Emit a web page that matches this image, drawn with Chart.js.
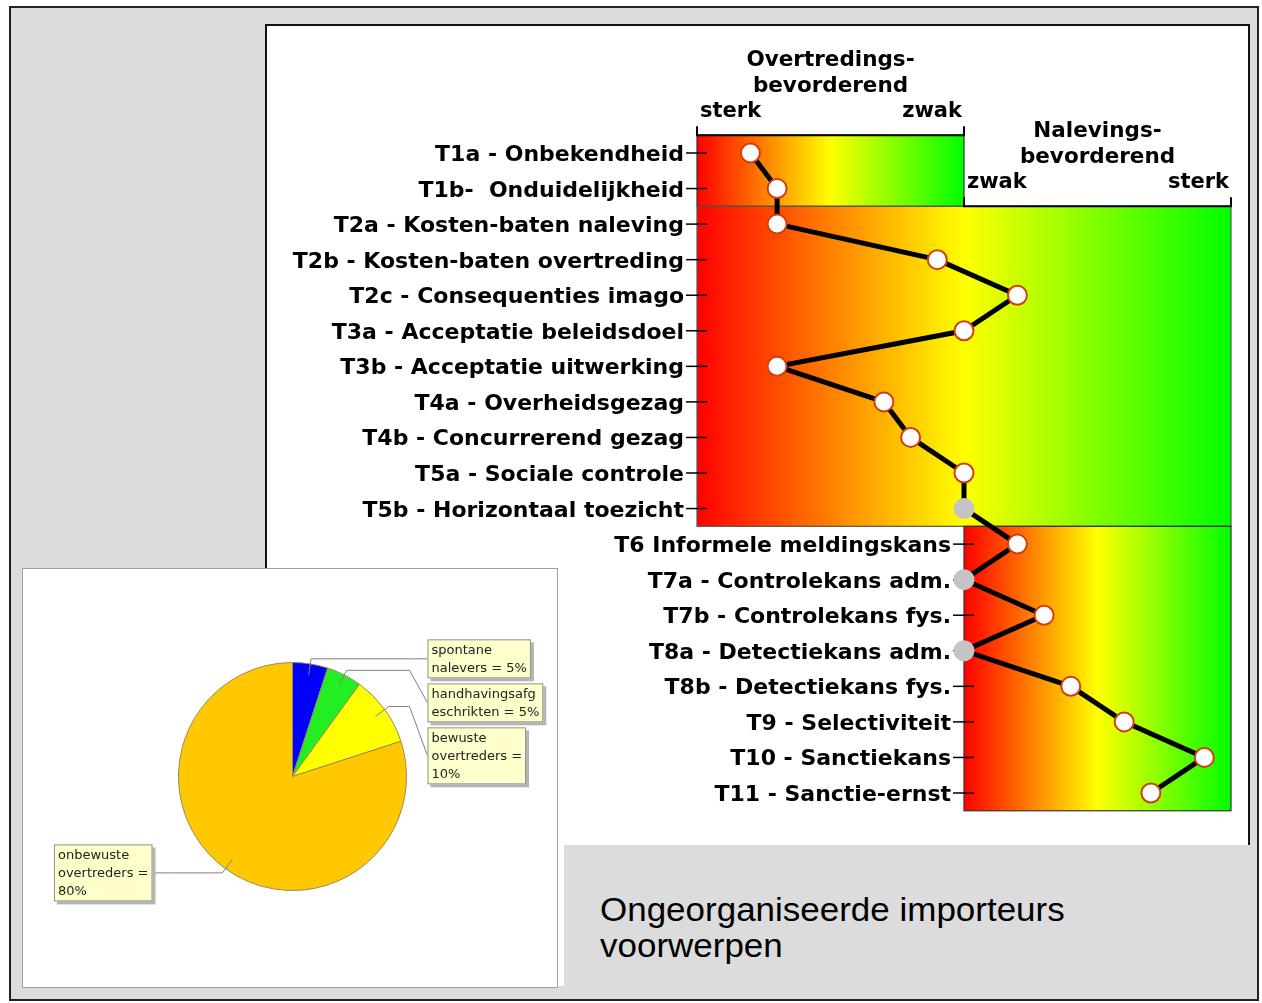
<!DOCTYPE html>
<html lang="nl">
<head>
<meta charset="utf-8">
<title>Ongeorganiseerde importeurs voorwerpen</title>
<script src="https://cdn.jsdelivr.net/npm/chart.js@4.4.1/dist/chart.umd.min.js"></script>
<style>
  html, body { margin: 0; padding: 0; background: #fff; }
  body { position: relative; width: 1262px; height: 1003px; overflow: hidden; }
  #frame { position: absolute; left: 9px; top: 6px; width: 1250px; height: 995px; box-sizing: border-box; border: 2px solid #222; background: #dcdcdc; }
  #panel { position: absolute; left: 265px; top: 24px; width: 985px; height: 962px; box-sizing: border-box; border: 2px solid #111; border-bottom: 0; background: #fff; }
  #mainChart { position: absolute; left: 265px; top: 24px; }
  #pieBox { position: absolute; left: 22px; top: 568px; width: 536px; height: 420px; box-sizing: border-box; border: 1px solid #a0a0a0; background: #fff; }
  #pieChart { position: absolute; left: 22px; top: 568px; }
  #caption { position: absolute; left: 564px; top: 845px; width: 692px; height: 152px; background: #dcdcdc; }
  #caption p { margin: 0; position: absolute; left: 36px; top: 47px; white-space: nowrap; font: 33px/36px "Liberation Sans", Arial, sans-serif; color: #000; transform: scaleX(1.06); transform-origin: 0 0; }
</style>
</head>
<body>
<div id="frame"></div>
<div id="panel"></div>
<canvas id="mainChart" width="983" height="821"></canvas>
<div id="pieBox"></div>
<canvas id="pieChart" width="536" height="420"></canvas>
<div id="caption"><p>Ongeorganiseerde importeurs<br>voorwerpen</p></div>
<script>
// rows of the profile, top to bottom
const categories = [
  'T1a - Onbekendheid', 'T1b-  Onduidelijkheid', 'T2a - Kosten-baten naleving',
  'T2b - Kosten-baten overtreding', 'T2c - Consequenties imago', 'T3a - Acceptatie beleidsdoel',
  'T3b - Acceptatie uitwerking', 'T4a - Overheidsgezag', 'T4b - Concurrerend gezag',
  'T5a - Sociale controle', 'T5b - Horizontaal toezicht', 'T6 Informele meldingskans',
  'T7a - Controlekans adm.', 'T7b - Controlekans fys.', 'T8a - Detectiekans adm.',
  'T8b - Detectiekans fys.', 'T9 - Selectiviteit', 'T10 - Sanctiekans', 'T11 - Sanctie-ernst'
];
// -5 = sterk overtredingsbevorderend, 0 = neutraal, 5 = sterk nalevingsbevorderend
const scores = [-4, -3.5, -3.5, -0.5, 1, 0, -3.5, -1.5, -1, 0, 0, 1, 0, 1.5, 0, 2, 3, 4.5, 3.5];
// grey dots: no score given
const scored = [true, true, true, true, true, true, true, true, true, true, false, true, false, true, false, true, true, true, true];

// coloured bands: which rows, which part of the scale
const bandRows = [[0, 1], [2, 10], [11, 18]];
const bandRange = [[-5, 0], [-5, 5], [0, 5]];
const sideTitles = [['Overtredings-', 'bevorderend'], ['Nalevings-', 'bevorderend']];
const sideEnds = [['sterk', 'zwak'], ['zwak', 'sterk']];
const sideRange = [[-5, 0], [0, 5]];

// pie
const pieLabels = ['spontane nalevers', 'handhavingsafgeschrikten', 'bewuste overtreders', 'onbewuste overtreders'];
const pieShares = [5, 5, 10, 80];
const pieColors = ['#0000ff', '#22ee22', '#ffff00', '#ffc800'];

const bandPlugin = {
  id: 'bands',
  beforeDatasetsDraw(chart) {
    const {ctx, scales: {x, y}} = chart;
    const half = Math.abs(y.getPixelForValue(1) - y.getPixelForValue(0)) / 2;
    const tops = [];
    ctx.save();
    bandRows.forEach(([r0, r1], b) => {
      const x0 = x.getPixelForValue(bandRange[b][0]);
      const x1 = x.getPixelForValue(bandRange[b][1]);
      const y0 = y.getPixelForValue(r0) - half;
      const y1 = y.getPixelForValue(r1) + half;
      tops.push(y0);
      const g = ctx.createLinearGradient(x0, 0, x1, 0);
      g.addColorStop(0, '#ff0000');
      g.addColorStop(0.5, '#ffff00');
      g.addColorStop(1, '#00ff00');
      ctx.fillStyle = g;
      ctx.fillRect(x0, y0, x1 - x0, y1 - y0);
      ctx.strokeStyle = b === 1 ? '#555' : '#333';
      ctx.lineWidth = 1.2;
      ctx.strokeRect(x0, y0, x1 - x0, y1 - y0);

      ctx.font = 'bold 22px "DejaVu Sans"';
      ctx.textAlign = 'right';
      ctx.textBaseline = 'alphabetic';
      ctx.fillStyle = '#000';
      ctx.strokeStyle = '#000';
      ctx.lineWidth = 1.5;
      for (let r = r0; r <= r1; r++) {
        const py = y.getPixelForValue(r);
        ctx.fillText(categories[r], x0 - 13, py + 8);
        ctx.beginPath();
        ctx.moveTo(x0 - 11, py);
        ctx.lineTo(x0 + 10, py);
        ctx.stroke();
      }
    });

    ctx.fillStyle = '#000';
    ctx.strokeStyle = '#000';
    sideTitles.forEach((title, s) => {
      const xa = x.getPixelForValue(sideRange[s][0]);
      const xb = x.getPixelForValue(sideRange[s][1]);
      const top = tops[s];
      ctx.lineWidth = 2;
      ctx.beginPath();
      ctx.moveTo(xa, top - 9);
      ctx.lineTo(xa, top);
      ctx.lineTo(xb, top);
      ctx.lineTo(xb, top - 9);
      ctx.stroke();
      ctx.font = 'bold 21.5px "DejaVu Sans"';
      ctx.textAlign = 'center';
      ctx.fillText(title[0], (xa + xb) / 2, top - 69);
      ctx.fillText(title[1], (xa + xb) / 2, top - 43);
      ctx.font = 'bold 21px "DejaVu Sans"';
      ctx.textAlign = 'left';
      ctx.fillText(sideEnds[s][0], xa + 3, top - 18);
      ctx.textAlign = 'right';
      ctx.fillText(sideEnds[s][1], xb - 2, top - 18);
    });
    ctx.restore();
  }
};

new Chart(document.getElementById('mainChart'), {
  type: 'line',
  data: {
    labels: categories,
    datasets: [{
      data: scores,
      borderColor: '#000',
      borderWidth: 5,
      tension: 0,
      clip: false,
      pointRadius: 9.5,
      pointHoverRadius: 9.5,
      pointBorderWidth: 2,
      pointBackgroundColor: scored.map(s => s ? '#ffffff' : '#c4c4c4'),
      pointBorderColor: scored.map(s => s ? '#d04010' : '#c4c4c4')
    }]
  },
  options: {
    indexAxis: 'y',
    responsive: false,
    animation: false,
    events: [],
    devicePixelRatio: 1,
    layout: { padding: { left: 432, right: 17, top: 129, bottom: 52 } },
    plugins: { legend: { display: false }, tooltip: { enabled: false } },
    scales: {
      x: { type: 'linear', min: -5, max: 5, display: false },
      y: { type: 'category', display: false }
    }
  },
  plugins: [bandPlugin]
});

function wrap(ctx, text, maxW) {
  const out = [];
  let line = '';
  text.split(' ').forEach(word => {
    const test = line ? line + ' ' + word : word;
    if (ctx.measureText(test).width <= maxW) { line = test; return; }
    if (line) out.push(line);
    line = '';
    for (const ch of word) {
      if (line && ctx.measureText(line + ch).width > maxW) { out.push(line); line = ''; }
      line += ch;
    }
  });
  if (line) out.push(line);
  return out;
}

const pieLabelPlugin = {
  id: 'pieLabels',
  afterDraw(chart) {
    const ctx = chart.ctx;
    const arcs = chart.getDatasetMeta(0).data;
    ctx.save();
    ctx.font = '13px "DejaVu Sans"';
    const items = arcs.map((arc, i) => {
      const {x, y, startAngle, endAngle, outerRadius: r} =
        arc.getProps(['x', 'y', 'startAngle', 'endAngle', 'outerRadius'], true);
      const mid = (startAngle + endAngle) / 2;
      const c = Math.cos(mid), s = Math.sin(mid);
      const lines = wrap(ctx, pieLabels[i] + ' = ' + pieShares[i] + '%', 110);
      const w = Math.max(...lines.map(l => ctx.measureText(l).width)) + 8;
      const h = lines.length * 18 + 3;
      return {
        lines, w, h, right: c >= 0, cx: x, r,
        ax: x + c * r * 0.9, ay: y + s * r * 0.9,
        ex: x + c * r * 1.045, ey: y + s * r * 1.045
      };
    });
    [true, false].forEach(side => {
      let bottom = -Infinity;
      items.filter(it => it.right === side).sort((a, b) => a.ey - b.ey).forEach(it => {
        it.top = Math.max(it.ey - it.h / 2, bottom + 5);
        bottom = it.top + it.h;
      });
    });
    items.forEach(it => {
      const bx = it.right ? it.cx + it.r + 21 : it.cx - it.r - 26 - it.w;
      const kx = it.right ? it.cx + it.r + 3 : it.cx - it.r - 3;
      ctx.strokeStyle = '#808080';
      ctx.lineWidth = 1;
      ctx.beginPath();
      ctx.moveTo(it.ax, it.ay);
      ctx.lineTo(it.ex, it.ey);
      ctx.lineTo(kx, it.ey);
      ctx.lineTo(it.right ? bx : bx + it.w, it.top + it.h / 2);
      ctx.stroke();
      ctx.fillStyle = '#b4b4b4';
      ctx.fillRect(bx + 3, it.top + 3, it.w, it.h);
      ctx.fillStyle = '#ffffcc';
      ctx.fillRect(bx, it.top, it.w, it.h);
      ctx.strokeStyle = '#909090';
      ctx.strokeRect(bx + 0.5, it.top + 0.5, it.w - 1, it.h - 1);
      ctx.fillStyle = '#222';
      ctx.textAlign = 'left';
      ctx.textBaseline = 'alphabetic';
      it.lines.forEach((l, k) => ctx.fillText(l, bx + 4, it.top + 15 + k * 18));
    });
    ctx.restore();
  }
};

new Chart(document.getElementById('pieChart'), {
  type: 'pie',
  data: {
    labels: pieLabels,
    datasets: [{
      data: pieShares,
      backgroundColor: pieColors,
      borderColor: '#9a8a5a',
      borderWidth: 1
    }]
  },
  options: {
    responsive: false,
    animation: false,
    events: [],
    devicePixelRatio: 1,
    layout: { padding: { left: 156, right: 151, top: 94, bottom: 97 } },
    plugins: { legend: { display: false }, tooltip: { enabled: false } }
  },
  plugins: [pieLabelPlugin]
});
</script>
</body>
</html>
